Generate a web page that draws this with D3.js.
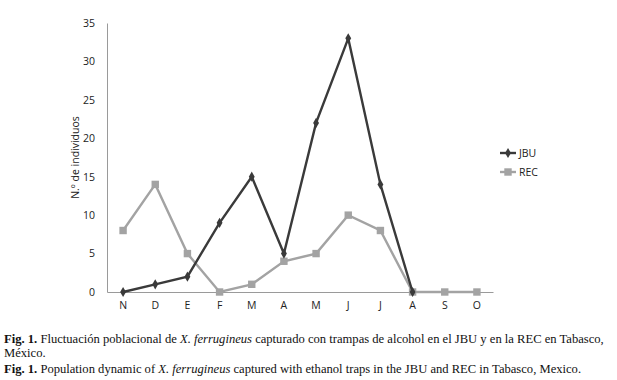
<!DOCTYPE html>
<html>
<head>
<meta charset="utf-8">
<script src="https://cdn.jsdelivr.net/npm/d3@7"></script>
<style>
  body { margin: 0; background: #fff; }
  .caption { position: absolute; left: 4px; top: 332px; width: 612px; font-family: "Liberation Serif", "Times New Roman", serif; font-size: 12.6px; line-height: 14px; color: #111; }
  .caption p { margin: 0; }
  .caption p + p { margin-top: 2px; }
</style>
</head>
<body>
<div id="chart"></div>
<div class="caption">
  <p><b>Fig. 1.</b> Fluctuación poblacional de <i>X. ferrugineus</i> capturado con trampas de alcohol en el JBU y en la REC en Tabasco, México.</p>
  <p><b>Fig. 1.</b> Population dynamic of <i>X. ferrugineus</i> captured with ethanol traps in the JBU and REC in Tabasco, Mexico.</p>
</div>
<script>
const months = ['N', 'D', 'E', 'F', 'M', 'A', 'M', 'J', 'J', 'A', 'S', 'O'];
const jbu = [0, 1, 2, 9, 15, 5, 22, 33, 14, 0, null, null];
const rec = [8, 14, 5, 0, 1, 4, 5, 10, 8, 0, 0, 0];
const yTicks = [0, 5, 10, 15, 20, 25, 30, 35];

const width = 617;
const height = 330;
const margin = { top: 23, right: 124, bottom: 38, left: 107 };

const svg = d3.select('#chart')
  .append('svg')
  .attr('width', width)
  .attr('height', height)
  .style('position', 'absolute')
  .style('left', 0)
  .style('top', 0);

const x = d3.scaleBand()
  .domain(d3.range(months.length))
  .range([margin.left, width - margin.right]);

const y = d3.scaleLinear()
  .domain([0, 35])
  .range([height - margin.bottom, margin.top]);

const font = '"Open Sans", "DejaVu Sans", sans-serif';

// axes
const xAxis = svg.append('g')
  .attr('transform', `translate(0,${y(0)})`)
  .call(d3.axisBottom(x).tickSize(0).tickFormat((i) => months[i]));
xAxis.select('.domain').attr('stroke', '#9a9a9a');
xAxis.selectAll('text')
  .attr('dy', 14)
  .attr('font-family', font)
  .attr('font-size', 10.5)
  .attr('fill', '#222');

const yAxis = svg.append('g')
  .attr('transform', `translate(${margin.left},0)`)
  .call(d3.axisLeft(y).tickValues(yTicks).tickSize(0));
yAxis.select('.domain').attr('stroke', '#9a9a9a');
yAxis.selectAll('text')
  .attr('dx', -9)
  .attr('font-family', font)
  .attr('font-size', 10.5)
  .attr('fill', '#222');

svg.append('text')
  .attr('transform', `translate(79,${(y(0) + y(35)) / 2}) rotate(-90)`)
  .attr('text-anchor', 'middle')
  .attr('font-family', font)
  .attr('font-size', 10.5)
  .attr('fill', '#222')
  .text('N.º de individuos');

const cx = (i) => x(i) + x.bandwidth() / 2;

const series = [
  { name: 'JBU', values: jbu, color: '#3a3a3a', symbol: d3.symbolDiamond, size: 30 },
  { name: 'REC', values: rec, color: '#a3a3a3', symbol: d3.symbolSquare, size: 55 },
];

// draw REC first so JBU sits on top
series.slice().reverse().forEach((s) => {
  const line = d3.line()
    .defined((d) => d != null)
    .x((d, i) => cx(i))
    .y((d) => y(d));
  svg.append('path')
    .datum(s.values)
    .attr('fill', 'none')
    .attr('stroke', s.color)
    .attr('stroke-width', 2.4)
    .attr('d', line);
  svg.selectAll(null)
    .data(s.values.map((v, i) => ({ v, i })).filter((d) => d.v != null))
    .enter()
    .append('path')
    .attr('transform', (d) => `translate(${cx(d.i)},${y(d.v)})`)
    .attr('d', d3.symbol(s.symbol, s.size))
    .attr('fill', s.color);
});

// legend
const legend = svg.append('g').attr('transform', 'translate(500,153)');
series.forEach((s, i) => {
  const g = legend.append('g').attr('transform', `translate(0,${i * 19})`);
  g.append('line').attr('x1', 0).attr('x2', 16)
    .attr('stroke', s.color).attr('stroke-width', 2.4);
  g.append('path').attr('transform', 'translate(8,0)')
    .attr('d', d3.symbol(s.symbol, s.size)).attr('fill', s.color);
  g.append('text').attr('x', 19).attr('dy', '0.35em')
    .attr('font-family', font).attr('font-size', 10.5).attr('fill', '#222')
    .text(s.name);
});
</script>
</body>
</html>
